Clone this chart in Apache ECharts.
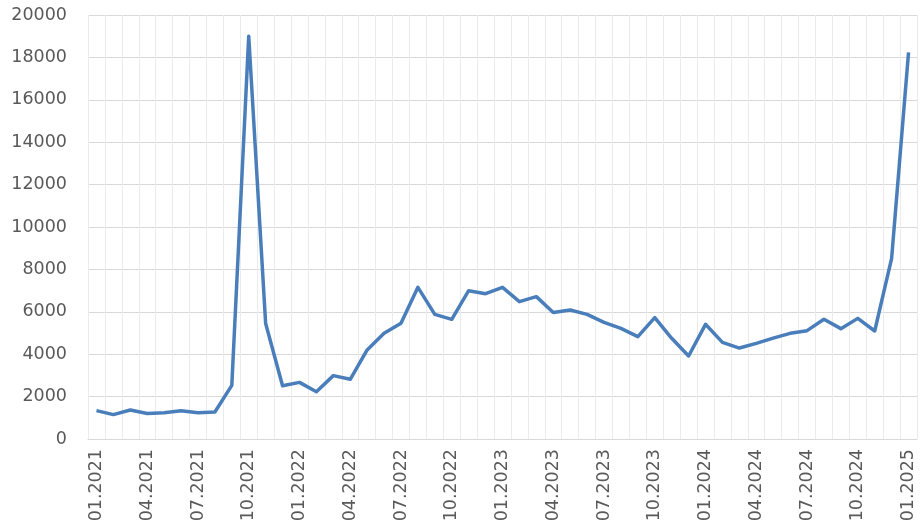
<!DOCTYPE html>
<html><head><meta charset="utf-8">
<script src="https://cdn.jsdelivr.net/npm/echarts@6/dist/echarts.min.js"></script>
<style>html,body{margin:0;padding:0;background:#fff}#c{width:924px;height:532px}</style>
</head><body><div id="c"></div>
<script>
const months = [
 "01.2021","02.2021","03.2021","04.2021","05.2021","06.2021","07.2021","08.2021","09.2021","10.2021","11.2021","12.2021",
 "01.2022","02.2022","03.2022","04.2022","05.2022","06.2022","07.2022","08.2022","09.2022","10.2022","11.2022","12.2022",
 "01.2023","02.2023","03.2023","04.2023","05.2023","06.2023","07.2023","08.2023","09.2023","10.2023","11.2023","12.2023",
 "01.2024","02.2024","03.2024","04.2024","05.2024","06.2024","07.2024","08.2024","09.2024","10.2024","11.2024","12.2024",
 "01.2025"];
const values = [
 1340,1150,1370,1200,1240,1335,1240,1275,2530,19000,5450,2510,
 2670,2230,2990,2815,4200,4985,5455,7155,5880,5645,6995,6855,
 7155,6480,6715,5965,6085,5880,5500,5220,4830,5725,4750,3915,
 5410,4560,4290,4510,4760,4985,5110,5645,5205,5690,5095,8520,
 18240];
const yMin = 0, yMax = 20000, yStep = 2000;

const chart = echarts.init(document.getElementById('c'));
const font = 'DejaVu Sans';
chart.setOption({
  animation: false,
  grid: {left: 88, right: 7, top: 15, bottom: 93, containLabel: false},
  xAxis: {
    type: 'category', data: months, boundaryGap: true,
    axisLine: {show: true, lineStyle: {color: '#d9d9d9', width: 1}},
    axisTick: {show: false},
    axisLabel: {interval: 2, rotate: 90, color: '#595959', fontFamily: font, fontSize: 17.5, margin: 10},
    splitLine: {show: true, interval: 0, lineStyle: {color: '#ebebeb', width: 1}}
  },
  yAxis: {
    type: 'value', min: yMin, max: yMax, interval: yStep,
    axisLine: {show: false}, axisTick: {show: false},
    axisLabel: {color: '#595959', fontFamily: font, fontSize: 17.5, margin: 21, formatter: v => String(v)},
    splitLine: {show: true, lineStyle: {color: '#d9d9d9', width: 1}}
  },
  series: [{
    type: 'line', data: values, showSymbol: false, symbol: 'none',
    lineStyle: {color: '#4a7ebb', width: 3.5, join: 'round'}
  }]
});
</script></body></html>
